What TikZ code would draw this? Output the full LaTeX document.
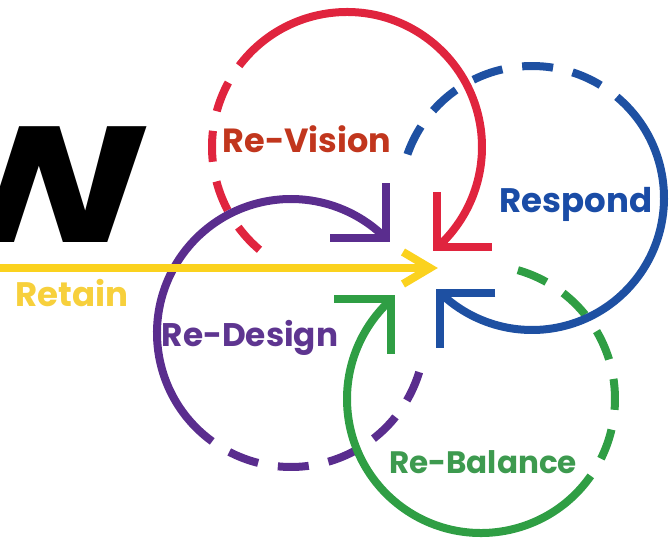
\documentclass[tikz,border=0pt]{standalone}
\usepackage{fontspec}
\setmainfont{Poppins}
\usetikzlibrary{calc}
\definecolor{cRed}{HTML}{E0243E}
\definecolor{cBlue}{HTML}{1E50A2}
\definecolor{cGreen}{HTML}{2F9E44}
\definecolor{cPurple}{HTML}{5A2D8E}
\definecolor{cYellow}{HTML}{FBD21E}
\definecolor{tRed}{HTML}{C1361D}
\definecolor{tBlue}{HTML}{1A4CA6}
\definecolor{tYellow}{HTML}{F7D03C}
\definecolor{tPurple}{HTML}{5E3590}
\definecolor{tGreen}{HTML}{3D9A4F}
\begin{document}
\begin{tikzpicture}[x=1pt,y=1pt,
  ring/.style={line width=8pt},
  gapdash/.style={ring, dash pattern=on 31pt off 20pt, dash phase=31pt},
  chev/.style={line width=8pt, line join=miter, miter limit=4},
  lbl/.style={inner sep=0pt, anchor=base}]

\useasboundingbox (0,0) rectangle (670,-540);
\clip (0,0) rectangle (670,-540);

% large letter at the left edge
\node[font=\bfseries\fontsize{165}{165}\selectfont, anchor=base east, inner sep=0pt,
      text depth=0pt, xscale=1.3] (bigW) at (152,-243) {W};

% circle centres
\coordinate (rc) at (347,-147);
\coordinate (bc) at (532,-198);
\coordinate (gc) at (481,-399);
\coordinate (pc) at (291,-333);

% dashed halves
\draw[gapdash, cRed]    ($(rc)+(143:135)$) arc[start angle=143, end angle=232, radius=135];
\draw[gapdash, cBlue]   ($(bc)+(50:132)$)  arc[start angle=50,  end angle=164, radius=132];
\draw[gapdash, cGreen]  ($(gc)+(-35:134)$) arc[start angle=-35, end angle=76,  radius=134];
\draw[gapdash, cPurple] ($(pc)+(234:134)$) arc[start angle=234, end angle=345, radius=134];

% solid halves ending in open arrowheads
\draw[ring, cRed]    ($(rc)+(143:135)$) arc[start angle=143, end angle=-48, radius=135] coordinate (rtip);
\draw[chev, cRed]    ($(rtip)+(0,55)$) -- (rtip) -- ($(rtip)+(55,0)$);

\draw[ring, cBlue]   ($(bc)+(50:132)$)  arc[start angle=50,  end angle=-134, radius=132] coordinate (btip);
\draw[chev, cBlue]   ($(btip)+(55,0)$) -- (btip) -- ($(btip)+(0,-55)$);

\draw[ring, cGreen]  ($(gc)+(-35:134)$) arc[start angle=-35, end angle=-228, radius=134] coordinate (gtip);
\draw[chev, cGreen]  ($(gtip)+(-57,0)$) -- (gtip) -- ($(gtip)+(0,-55)$);

\draw[ring, cPurple] ($(pc)+(234:134)$) arc[start angle=234, end angle=45, radius=134] coordinate (ptip);
\draw[chev, cPurple] ($(ptip)+(0,55)$) -- (ptip) -- ($(ptip)+(-56,0)$);

% straight arrow
\coordinate (ystart) at (0,-268);
\coordinate (ytip) at (430,-268);
\draw[ring, cYellow] (ystart) -- ($(ytip)+(-4,0)$);
\draw[chev, cYellow] ($(ytip)+(-27,16)$) -- (ytip) -- ($(ytip)+(-27,-16)$);

% labels
\node[lbl, text=tRed, font=\bfseries\fontsize{33.5}{34}\selectfont]    (revision)  at (307,-153) {Re-Vision};
\node[lbl, text=tBlue, font=\bfseries\fontsize{34}{34}\selectfont]     (respond)   at (576,-213) {Respond};
\node[lbl, text=tYellow, font=\bfseries\fontsize{34}{34}\selectfont]   (retain)    at (72,-307)  {Retain};
\node[lbl, text=tPurple, font=\bfseries\fontsize{32.7}{33}\selectfont] (redesign)  at (250,-347) {Re-Design};
\node[lbl, text=tGreen, font=\bfseries\fontsize{31}{31}\selectfont]    (rebalance) at (483,-473) {Re-Balance};
\end{tikzpicture}
\end{document}
